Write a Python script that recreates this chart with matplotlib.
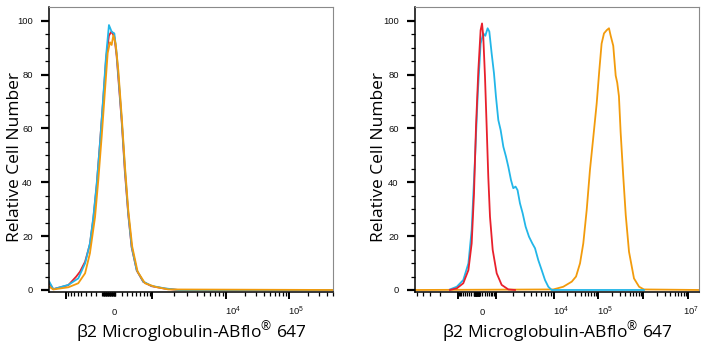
import numpy as np
import matplotlib
matplotlib.use("Agg")
import matplotlib.pyplot as plt

# ---------------- data (x in display channels 0-1000, y in % of max) ----------------
# Panel 1: isotype / unstained / stained all overlap near zero
left_red_x = [0, 14, 67, 95, 108, 126, 143, 155, 167, 178, 190, 200, 210, 219, 229, 237,
              245, 255, 266, 278, 290, 308, 331, 360, 407, 454, 1000]
left_red_y = [2.5, 0.3, 1.8, 5.0, 6.8, 10.5, 17.0, 26.5, 39.0, 54.0, 71.0, 86.0, 94.5, 96.0,
              94.0, 87.0, 76.0, 62.5, 44.0, 28.0, 15.8, 7.2, 3.0, 1.4, 0.5, 0, 0]

left_blue_x = [0, 14, 67, 102, 126, 143, 155, 167, 178.5, 190, 199.6, 210, 219.6, 229, 237,
               245.4, 255, 266.5, 278, 290, 307.7, 331, 360.5, 407, 454, 1000]
left_blue_y = [3.1, 0.3, 1.9, 4.3, 9.9, 17.3, 27.0, 39.6, 54.5, 71.8, 86.6, 98.4, 95.9, 95.3,
               87.9, 76.7, 63.1, 44.6, 28.5, 16.1, 7.4, 3.1, 1.5, 0.6, 0, 0]

left_orange_x = [0, 14, 67, 102, 126, 143, 161, 172.7, 184.5, 196, 205.6, 213.7, 219.6, 225.5,
                 233.6, 243, 255, 266.5, 278, 292, 311, 337, 372, 419, 1000]
left_orange_y = [1.2, 0.2, 1.0, 2.5, 6.2, 13.6, 27.0, 41.0, 57.0, 74.0, 88.0, 92.0, 91.0, 94.6,
                 91.5, 81.6, 64.4, 45.8, 29.7, 16.1, 6.8, 2.5, 1.2, 0.2, 0]

# Panel 2: unstained (red), cell line 1 (blue), cell line 2 (orange)
right_red_x = [122, 146, 169, 187, 198.5, 206.7, 213.7, 222, 230, 235, 239.4, 245.4, 251.3,
               257, 263, 272.5, 286.6, 304, 327.5, 351]
right_red_y = [0, 0.6, 2.5, 7.4, 17.3, 35.8, 60.6, 81.6, 96.5, 99.0, 94.0, 79.2, 60.6, 42.0,
               27.2, 14.9, 6.2, 1.9, 0.2, 0]

right_blue_x = [122, 146, 169, 187, 198.5, 210, 220, 230, 239.4, 246.5, 254.7, 260.6, 268.8,
                277, 284, 292.3, 300.5, 310, 319.4, 327.5, 337, 345, 353, 360, 368.5, 378,
                388.5, 400.3, 412, 421.5, 433, 445, 456.7, 468.4, 480, 805]
right_blue_y = [0.2, 1.2, 3.7, 9.9, 22.3, 48.3, 73.0, 91.5, 95.3, 94.4, 97.2, 96.0, 87.9, 80.5,
                71.8, 63.1, 59.4, 53.2, 49.5, 45.8, 40.8, 37.8, 38.4, 37.1, 32.2, 28.5, 23.5,
                19.8, 17.3, 15.5, 11.1, 7.4, 3.7, 1.2, 0, 0]

right_orange_x = [0, 486, 521, 551, 566, 580, 591.5, 603.5, 615, 627, 638.7, 648, 656, 664.4,
                  674, 682, 688, 697, 705.6, 711, 717, 723, 732, 741, 752.5, 770, 788, 805, 1000]
right_orange_y = [0, 0.2, 1.2, 3.1, 5.0, 9.9, 17.3, 29.7, 44.6, 57.0, 69.3, 81.7, 91.5, 95.3,
                  96.5, 97.2, 94.4, 90.7, 79.6, 77.0, 72.0, 58.6, 42.6, 27.8, 14.2, 4.3, 1.2,
                  0.2, 0]

# axis tick labels
y_ticks = [0, 20, 40, 60, 80, 100]
left_xlabels = [(0, "0"), (1e4, r"$\mathregular{10^{4}}$"), (1e5, r"$\mathregular{10^{5}}$")]
right_xlabels = [(0, "0"), (1e4, r"$\mathregular{10^{4}}$"), (1e5, r"$\mathregular{10^{5}}$"),
                 (1e7, r"$\mathregular{10^{7}}$")]

RED = "#E8202C"
BLUE = "#22B6E8"
ORANGE = "#F29B0C"

plt.rcParams["font.family"] = ["Liberation Sans", "DejaVu Sans"]
plt.rcParams["mathtext.fontset"] = "custom"
plt.rcParams["mathtext.rm"] = "Liberation Sans"

fig = plt.figure(figsize=(7.08, 3.5), dpi=100)
W, H = 708.0, 350.0
ax_w = 284.0 / W
ax_b = 58.0 / H
ax_h = 285.0 / H
ax1 = fig.add_axes([49.3 / W, ax_b, ax_w, ax_h])
ax2 = fig.add_axes([415.3 / W, ax_b, ax_w, ax_h])

TICK_FS = 6.8


def biex(center, anchors):
    """Map a fluorescence value onto display channels (linear near 0, log above 1e3)."""
    exps = sorted(anchors)
    last_w = anchors[exps[-1]] - anchors[exps[-2]]

    def fwd(v):
        s = np.sign(v)
        a = abs(v)
        if a <= 1000:
            return center + (anchors[3] - center) * np.arcsinh(v / 400.0) / np.arcsinh(1000 / 400.0)
        e = np.log10(a)
        k = int(np.floor(e + 1e-9))
        if k in anchors and (k + 1) in anchors:
            lo, hi = anchors[k], anchors[k + 1]
        else:
            lo = anchors[exps[-1]] + (k - exps[-1]) * last_w
            hi = lo + last_w
        p = lo + (e - k) * (hi - lo)
        return center + s * (p - center)
    return fwd


def style_axes(ax, fwd, labels, zero_shift):
    ax.set_xlim(0, 1000)
    ax.set_ylim(-0.75, 105.1)
    for sp in ("top", "right"):
        ax.spines[sp].set_color("#8a8a8a")
        ax.spines[sp].set_linewidth(0.8)
    for sp in ("left", "bottom"):
        ax.spines[sp].set_color("black")
        ax.spines[sp].set_linewidth(1.1)

    # y axis
    ax.set_yticks(y_ticks)
    ax.set_yticks(np.arange(0, 105, 5), minor=True)
    ax.tick_params(axis="y", which="major", length=5.5, width=1.6, pad=6.5,
                   labelsize=TICK_FS, labelcolor="#111111")
    ax.tick_params(axis="y", which="minor", length=3.2, width=0.9)

    # x axis ticks on the biexponential display
    majors_v = [-1e3, 1e3, 1e4, 1e5, 1e6, 1e7]
    minors_v = [0]
    for k in range(3, 8):
        for m in range(2, 10):
            minors_v += [m * 10 ** k, -m * 10 ** k]
    for m in range(1, 10):
        minors_v += [m * 100, -m * 100, m * 10, -m * 10]
    maj = [fwd(v) for v in majors_v if 0 <= fwd(v) <= 1000]
    mnr = [fwd(v) for v in minors_v if 0 <= fwd(v) <= 1000]
    ax.set_xticks(maj)
    ax.set_xticks(mnr, minor=True)
    ax.set_xticklabels([])
    ax.tick_params(axis="x", which="major", length=5.0, width=1.4)
    ax.tick_params(axis="x", which="minor", length=3.0, width=0.9)

    trans = ax.get_xaxis_transform()
    for v, txt in labels:
        x = fwd(v)
        if v == 0:
            ax.text(x + zero_shift, -0.080, txt, transform=trans, ha="center",
                    va="baseline", fontsize=TICK_FS, color="#111111")
        else:
            dx = -18 if v == 1e7 else -4
            ax.text(x + dx, -0.080, txt, transform=trans, ha="left",
                    va="baseline", fontsize=TICK_FS, color="#111111")

    ax.set_ylabel("Relative Cell Number", fontsize=12.5, family=["Open Sans", "DejaVu Sans"])
    ax.yaxis.label.set_va("center")
    ax.set_xlabel("β2 Microglobulin-ABflo$^{\\mathregular{®}}$ 647", fontsize=12.5,
                  family=["Open Sans", "DejaVu Sans"])
    ax.xaxis.label.set_va("center")
    ax.xaxis.set_label_coords(0.5, -0.142)


fwd1 = biex(210.0, {3: 362.0, 4: 622.0, 5: 844.0})
fwd2 = biex(216.5, {3: 284.0, 4: 488.0, 5: 644.0, 6: 803.0, 7: 961.0})

lw = 1.3
ax1.plot(left_red_x, left_red_y, color=RED, lw=lw)
ax1.plot(left_blue_x, left_blue_y, color=BLUE, lw=lw)
ax1.plot(left_orange_x, left_orange_y, color=ORANGE, lw=lw)

ax2.plot(right_orange_x, right_orange_y, color=ORANGE, lw=lw)
ax2.plot(right_blue_x, right_blue_y, color=BLUE, lw=lw)
ax2.plot(right_red_x, right_red_y, color=RED, lw=lw)

style_axes(ax1, fwd1, left_xlabels, 18)
style_axes(ax2, fwd2, right_xlabels, 21)
ax1.yaxis.set_label_coords(-0.121, 0.474)
ax2.yaxis.set_label_coords(-0.128, 0.474)

fig.savefig("out.png", dpi=100, facecolor="white")
